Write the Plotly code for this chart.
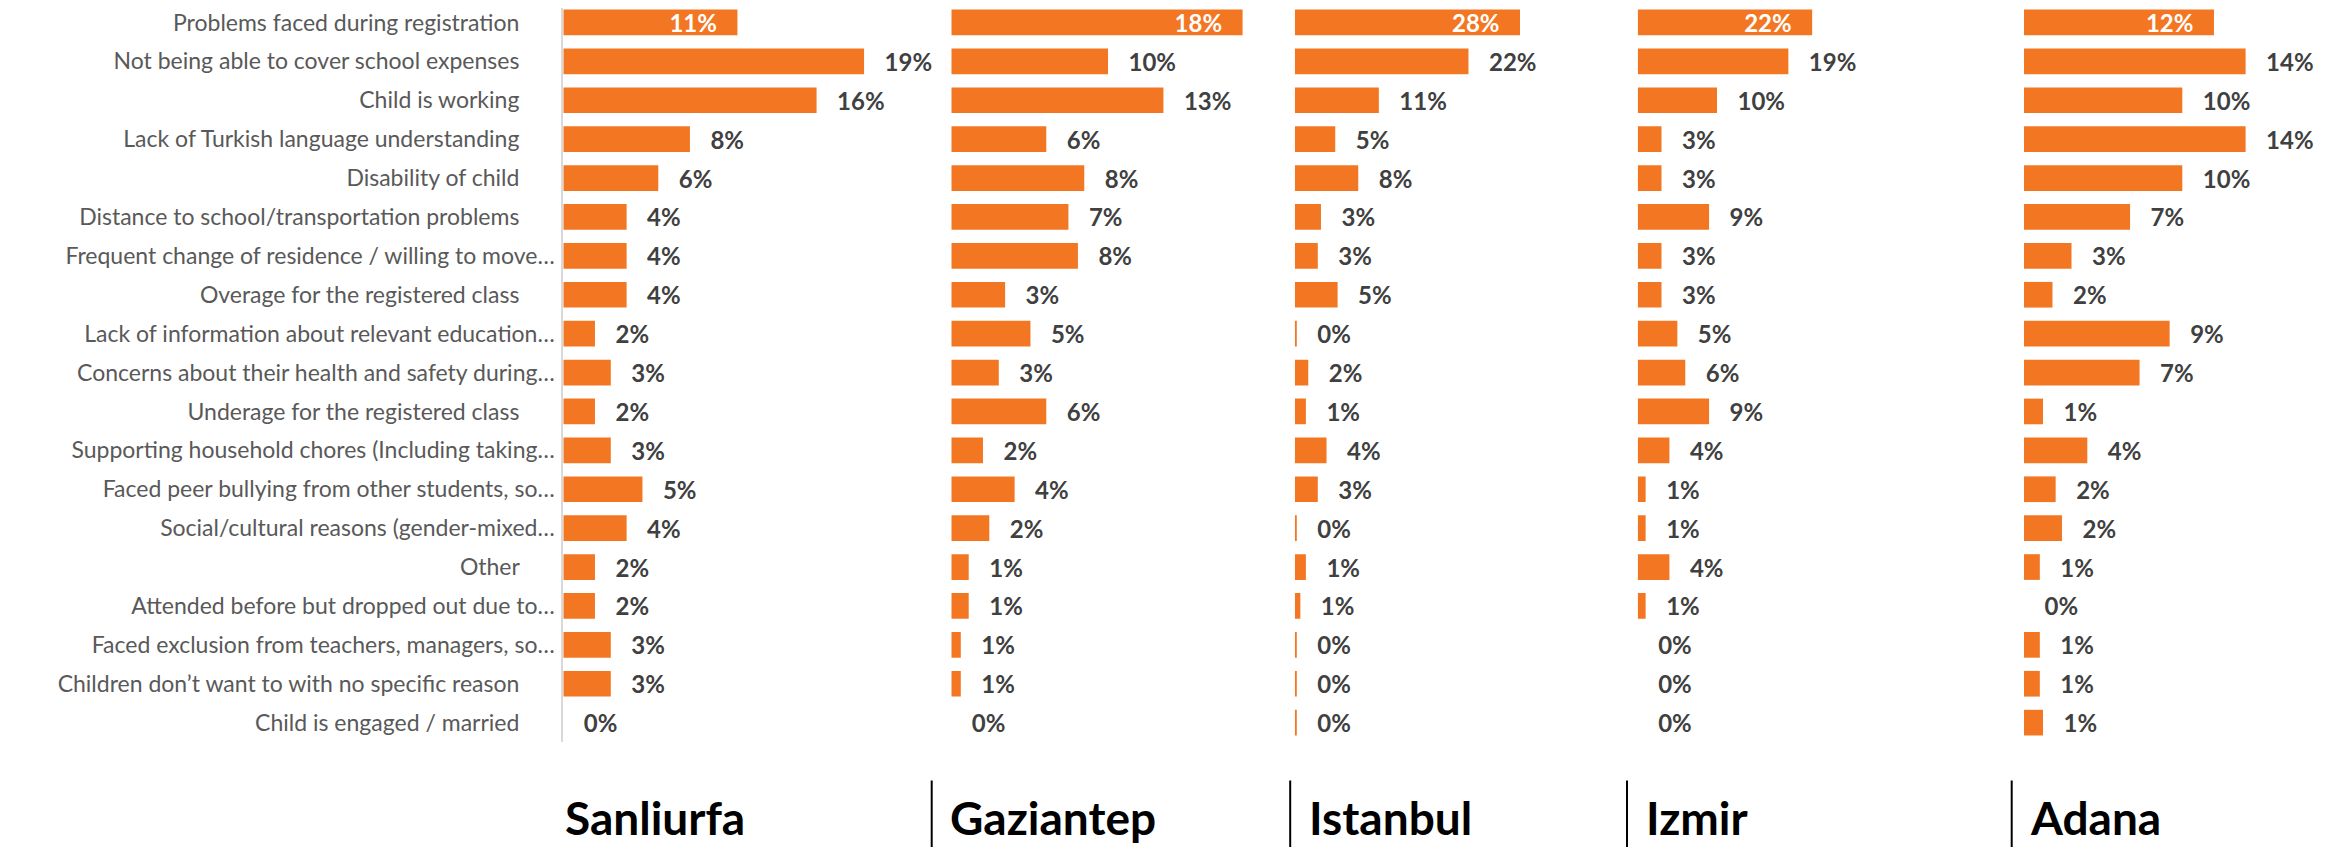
import plotly.graph_objects as go

# Reference canvas is 2343x855; the page body has an 8px margin, so the
# figure is made 16px smaller and every pixel position is shifted by 8px.
OFF = 8
W, H = 2343 - 2 * OFF, 855 - 2 * OFF

categories = [
    "Problems faced during registration",
    "Not being able to cover school expenses",
    "Child is working",
    "Lack of Turkish language understanding",
    "Disability of child",
    "Distance to school/transportation problems",
    "Frequent change of residence / willing to move…",
    "Overage for the registered class",
    "Lack of information about relevant education…",
    "Concerns about their health and safety during…",
    "Underage for the registered class",
    "Supporting household chores (Including taking…",
    "Faced peer bullying from other students, so…",
    "Social/cultural reasons (gender-mixed…",
    "Other",
    "Attended before but dropped out due to…",
    "Faced exclusion from teachers, managers, so…",
    "Children don’t want to with no specific reason",
    "Child is engaged / married",
]

cities = ["Sanliurfa", "Gaziantep", "Istanbul", "Izmir", "Adana"]

sanliurfa = [11, 19, 16, 8, 6, 4, 4, 4, 2, 3, 2, 3, 5, 4, 2, 2, 3, 3, 0]
gaziantep = [18.4, 9.9, 13.4, 6.0, 8.4, 7.4, 8.0, 3.4, 5.0, 3.0, 6.0, 2.0, 4.0, 2.4, 1.1, 1.1, 0.6, 0.6, 0]
istanbul = [28.4, 21.9, 10.6, 5.1, 8.0, 3.3, 2.9, 5.4, 0.2, 1.7, 1.4, 4.0, 2.9, 0.2, 1.4, 0.7, 0.2, 0.2, 0.2]
izmir = [22, 19, 10, 3, 3, 9, 3, 3, 5, 6, 9, 4, 1, 1, 4, 1, 0, 0, 0]
adana = [12, 14, 10, 14, 10, 6.7, 3, 1.8, 9.2, 7.3, 1.2, 4, 2, 2.4, 1, 0, 1, 1, 1.2]

series = [sanliurfa, gaziantep, istanbul, izmir, adana]

# layout in reference pixels: x-domain start/end and px per percent per panel
panel_px = [(563.3, 940, 15.83), (951.3, 1285, 15.83), (1294.8, 1630, 7.93),
            (1637.7, 2015, 7.93), (2024, 2335, 15.83)]
title_x_px = [564, 948.5, 1308, 1645, 2028.5]
sep_x_px = [None, 931.7, 1290.2, 1627, 2011.7]

ROW = 38.9          # px per category row in the reference
Y_TOP, Y_BOT = 8.0, 742.0   # plot area top/bottom (reference px)
FIRST_EDGE = 3.0    # where the first row slot would begin in the reference


def px(xr):
    return (xr - OFF) / W


def py(yr):
    return (H - (yr - OFF)) / H


ORANGE = "#F37722"
NB = "\u00a0"

fig = go.Figure()

for i, (city, vals) in enumerate(zip(cities, series)):
    xa = "x" if i == 0 else f"x{i+1}"
    texts = []
    pos = []
    for j, v in enumerate(vals):
        lab = f"{int(v + 0.5)}%"
        if j == 0:
            texts.append(lab + NB * 3)
            pos.append("inside")
        else:
            texts.append(NB * 3 + lab)
            pos.append("outside")
    fig.add_trace(go.Bar(
        x=vals, y=categories, orientation="h",
        xaxis=xa, yaxis="y",
        marker=dict(color=ORANGE, line=dict(width=0)),
        text=texts, textposition=pos, insidetextanchor="end",
        textfont=dict(family="Lato", size=24, weight="bold"),
        insidetextfont=dict(family="Lato", size=24, weight="bold", color="white"),
        outsidetextfont=dict(family="Lato", size=24, weight="bold", color="#404040"),
        constraintext="none", cliponaxis=False, showlegend=False,
        hoverinfo="skip",
    ))
    x0, x1, ppp = panel_px[i]
    rng = (x1 - x0) / ppp
    key = "xaxis" if i == 0 else f"xaxis{i+1}"
    fig.update_layout(**{key: dict(
        domain=[px(x0), px(x1)], range=[0, rng], visible=False,
        anchor="y", automargin=False, fixedrange=True,
    )})

ticktext = [c if c.endswith("…") else c + NB * 6 for c in categories]

top_idx = -0.5 + (Y_TOP - FIRST_EDGE) / ROW
bot_idx = -0.5 + (Y_BOT - FIRST_EDGE) / ROW

fig.update_layout(
    yaxis=dict(
        domain=[py(Y_BOT), py(Y_TOP)],
        type="category", categoryorder="array", categoryarray=categories,
        range=[bot_idx, top_idx], autorange=False,
        tickmode="array", tickvals=categories, ticktext=ticktext,
        ticks="", ticklabelstandoff=2,
        tickfont=dict(family="Lato", size=23, color="#595959"),
        showline=True, linecolor="#D9D9D9", linewidth=2,
        showgrid=False, zeroline=False, automargin=False, anchor="x",
        fixedrange=True,
    ),
    bargap=0.34,
    width=W, height=H,
    margin=dict(l=0, r=0, t=0, b=0),
    paper_bgcolor="white", plot_bgcolor="white",
    template="none",
)

for i, city in enumerate(cities):
    fig.add_annotation(
        x=px(title_x_px[i]), y=py(817), xref="paper", yref="paper",
        text=f"<b>{city}</b>", showarrow=False, xanchor="left", yanchor="middle",
        font=dict(family="Lato", size=46, color="black"),
        borderpad=0,
    )
    if sep_x_px[i] is not None:
        fig.add_shape(
            type="line", xref="paper", yref="paper",
            x0=px(sep_x_px[i]), x1=px(sep_x_px[i]),
            y0=py(855), y1=py(780.5),
            line=dict(color="black", width=2),
        )

fig.write_html("out.html", config={"displayModeBar": False})
